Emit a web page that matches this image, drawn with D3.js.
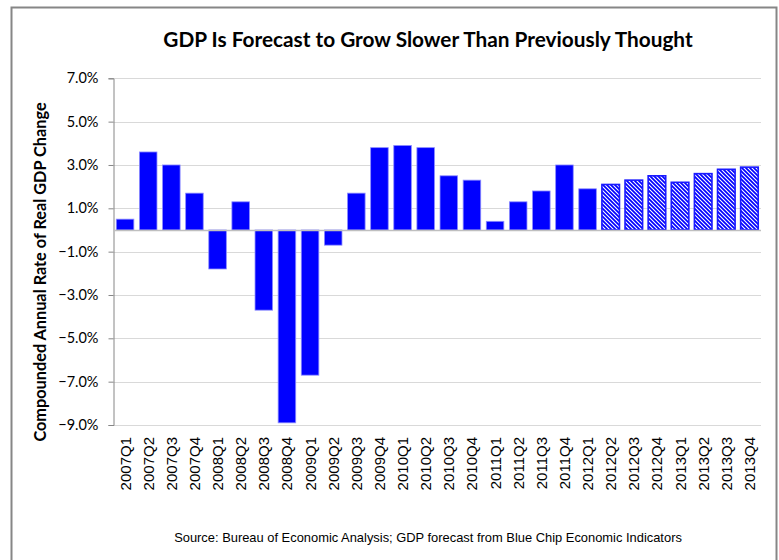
<!DOCTYPE html>
<html>
<head>
<meta charset="utf-8">
<script src="https://cdn.jsdelivr.net/npm/d3@7"></script>
<style>
  body { margin: 0; background: #fff; }
  svg { display: block; }
</style>
</head>
<body>
<svg id="chart" width="779" height="560"></svg>
<script>
// quarters shown on the x axis
const quarters = [
  "2007Q1", "2007Q2", "2007Q3", "2007Q4",
  "2008Q1", "2008Q2", "2008Q3", "2008Q4",
  "2009Q1", "2009Q2", "2009Q3", "2009Q4",
  "2010Q1", "2010Q2", "2010Q3", "2010Q4",
  "2011Q1", "2011Q2", "2011Q3", "2011Q4",
  "2012Q1", "2012Q2", "2012Q3", "2012Q4",
  "2013Q1", "2013Q2", "2013Q3", "2013Q4"
];

// actual growth, 2007Q1 - 2012Q1
const actual = [0.5, 3.6, 3.0, 1.7, -1.8, 1.3, -3.7, -8.9, -6.7, -0.7, 1.7, 3.8,
  3.9, 3.8, 2.5, 2.3, 0.4, 1.3, 1.8, 3.0, 1.9];

// Blue Chip forecast, 2012Q2 - 2013Q4
const forecast = [2.1, 2.3, 2.5, 2.2, 2.6, 2.8, 2.9];

const yTicks = [-9, -7, -5, -3, -1, 1, 3, 5, 7];

const title = "GDP Is Forecast to Grow Slower Than Previously Thought";
const yTitle = "Compounded Annual Rate of Real GDP Change";
const source = "Source: Bureau of Economic Analysis; GDP forecast from Blue Chip Economic Indicators";

const data = quarters.map((q, i) => ({
  q: q,
  value: i < actual.length ? actual[i] : forecast[i - actual.length],
  forecast: i >= actual.length
}));

const svg = d3.select("#chart");

// outer frame
svg.append("rect")
  .attr("x", 11.5).attr("y", 7.5)
  .attr("width", 765).attr("height", 560)
  .attr("fill", "#fff")
  .attr("stroke", "#868686")
  .attr("stroke-width", 2);

// hatch for the forecast bars
const defs = svg.append("defs");
const pat = defs.append("pattern")
  .attr("id", "hatch")
  .attr("patternUnits", "userSpaceOnUse")
  .attr("width", 4).attr("height", 4);
pat.append("rect").attr("width", 4).attr("height", 4).attr("fill", "#0000ff");
pat.append("path")
  .attr("d", "M-1,-1 L5,5 M-1,3 L1,5 M3,-1 L5,1")
  .attr("stroke", "#fff")
  .attr("stroke-width", 1.1);

const left = 113.5, right = 761;

const x = d3.scaleBand()
  .domain(quarters)
  .range([left, right])
  .paddingInner(0.24)
  .paddingOuter(0.12);

const y = d3.scaleLinear()
  .domain([-9, 7])
  .range([425, 78.3]);

// gridlines
svg.append("g")
  .selectAll("line")
  .data(yTicks)
  .join("line")
  .attr("x1", left).attr("x2", right)
  .attr("y1", d => Math.round(y(d)) + 0.5)
  .attr("y2", d => Math.round(y(d)) + 0.5)
  .attr("stroke", "#d9d9d9")
  .attr("stroke-width", 1);

// y axis
const yAxis = svg.append("g")
  .attr("transform", `translate(${left},0)`)
  .call(d3.axisLeft(y)
    .tickValues(yTicks)
    .tickSize(5)
    .tickPadding(10)
    .tickFormat(d => d3.format(".1f")(d) + "%"));
yAxis.select(".domain").attr("stroke", "#868686");
yAxis.selectAll(".tick line").attr("stroke", "#868686");
yAxis.selectAll("text")
  .attr("fill", "#000")
  .style("font-family", "Lato, 'Open Sans', sans-serif")
  .style("font-size", "14.5px");

// bars
svg.append("g")
  .selectAll("rect")
  .data(data)
  .join("rect")
  .attr("x", d => x(d.q))
  .attr("width", x.bandwidth())
  .attr("y", d => y(Math.max(0, d.value)))
  .attr("height", d => Math.abs(y(d.value) - y(0)))
  .attr("fill", d => d.forecast ? "url(#hatch)" : "#0000ff")
  .attr("stroke", d => d.forecast ? "#1a1aff" : "#8c8cff")
  .attr("stroke-width", d => d.forecast ? 1.6 : 0.8);

// zero line
svg.append("line")
  .attr("x1", left).attr("x2", right)
  .attr("y1", Math.round(y(0)) + 0.5).attr("y2", Math.round(y(0)) + 0.5)
  .attr("stroke", "#bfbfbf")
  .attr("stroke-width", 1.5);

// x labels, rotated
svg.append("g")
  .selectAll("text")
  .data(quarters)
  .join("text")
  .attr("transform", d => `translate(${x(d) + x.bandwidth() / 2 + 5.5},437) rotate(-90)`)
  .attr("text-anchor", "end")
  .style("font-family", "'Liberation Sans', Arial, sans-serif")
  .style("font-size", "15px")
  .attr("fill", "#000")
  .text(d => d);

// titles
svg.append("text")
  .attr("x", 428).attr("y", 47)
  .attr("text-anchor", "middle")
  .style("font-family", "Lato, sans-serif")
  .style("font-weight", "bold")
  .style("font-size", "20.8px")
  .text(title);

svg.append("text")
  .attr("transform", "translate(46,272) rotate(-90)")
  .attr("text-anchor", "middle")
  .style("font-family", "Lato, sans-serif")
  .style("font-weight", "bold")
  .style("font-size", "16.3px")
  .text(yTitle);

svg.append("text")
  .attr("x", 428).attr("y", 542)
  .attr("text-anchor", "middle")
  .style("font-family", "'Liberation Sans', Arial, sans-serif")
  .style("font-size", "12.9px")
  .attr("fill", "#000")
  .text(source);
</script>
</body>
</html>
